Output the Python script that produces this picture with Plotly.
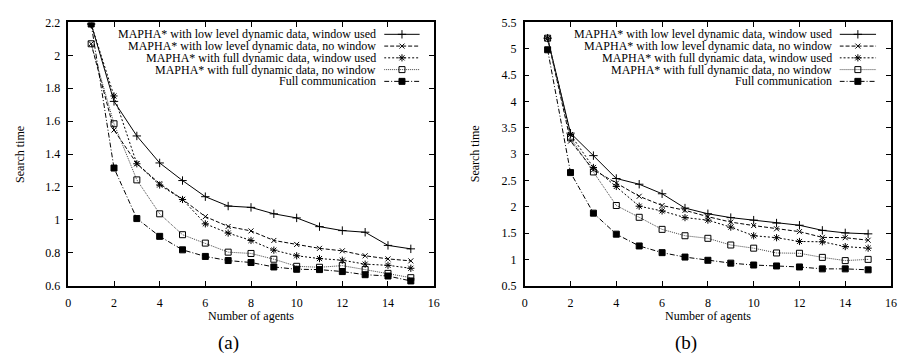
import plotly.graph_objects as go

agents = list(range(1, 16))

# (a)
a_low_win = [2.19, 1.72, 1.51, 1.346, 1.239, 1.141, 1.084, 1.076, 1.037, 1.012, 0.959, 0.935, 0.925, 0.845, 0.824]
a_low_nowin = [2.07, 1.546, 1.342, 1.22, 1.125, 1.02, 0.96, 0.933, 0.875, 0.851, 0.827, 0.812, 0.782, 0.763, 0.751]
a_full_win = [2.19, 1.753, 1.341, 1.212, 1.124, 0.976, 0.92, 0.875, 0.816, 0.782, 0.765, 0.755, 0.731, 0.724, 0.706]
a_full_nowin = [2.07, 1.584, 1.243, 1.037, 0.91, 0.859, 0.804, 0.796, 0.761, 0.718, 0.712, 0.722, 0.698, 0.675, 0.649]
a_fullcomm = [2.19, 1.315, 1.008, 0.9, 0.818, 0.778, 0.753, 0.741, 0.714, 0.7, 0.698, 0.686, 0.667, 0.659, 0.629]

# (b)
b_low_win = [5.2, 3.397, 2.97, 2.536, 2.427, 2.246, 1.974, 1.866, 1.793, 1.745, 1.69, 1.648, 1.551, 1.503, 1.485]
b_low_nowin = [5.2, 3.246, 2.7, 2.446, 2.198, 2.023, 1.932, 1.811, 1.708, 1.642, 1.581, 1.527, 1.418, 1.412, 1.364]
b_full_win = [5.2, 3.37, 2.745, 2.385, 2.01, 1.92, 1.793, 1.745, 1.612, 1.449, 1.412, 1.34, 1.334, 1.243, 1.213]
b_full_nowin = [5.2, 3.307, 2.66, 2.023, 1.799, 1.57, 1.449, 1.40, 1.273, 1.213, 1.122, 1.116, 1.038, 0.977, 1.0]
b_fullcomm = [4.98, 2.648, 1.878, 1.479, 1.255, 1.128, 1.044, 0.983, 0.929, 0.893, 0.875, 0.856, 0.82, 0.82, 0.802]

series_names = [
    "MAPHA* with low level dynamic data, window used",
    "MAPHA* with low level dynamic data, no window",
    "MAPHA* with full dynamic data, window used",
    "MAPHA* with full dynamic data, no window",
    "Full communication",
]

x_ticks = [0, 2, 4, 6, 8, 10, 12, 14, 16]
a_yticks = [0.6, 0.8, 1.0, 1.2, 1.4, 1.6, 1.8, 2.0, 2.2]
a_yticktext = ["0.6", "0.8", "1", "1.2", "1.4", "1.6", "1.8", "2", "2.2"]
b_yticks = [0.5, 1.0, 1.5, 2.0, 2.5, 3.0, 3.5, 4.0, 4.5, 5.0, 5.5]
b_yticktext = ["0.5", "1", "1.5", "2", "2.5", "3", "3.5", "4", "4.5", "5", "5.5"]

FONT = "Liberation Serif"
styles = [
    dict(dash="solid", symbol="cross-thin-open", size=6, lw=1.0, color="black"),
    dict(dash="4px,2px", symbol="x-thin-open", size=5, lw=1.0, color="black"),
    dict(dash="2px,2px", symbol="asterisk-open", size=6, lw=1.0, color="black"),
    dict(dash="1px,1px", symbol="square-open", size=6, lw=1.0, color="#444444"),
    dict(dash="5px,2px,1px,2px", symbol="square", size=6, lw=1.0, color="black"),
]

fig = go.Figure()

def add_series(ys, st, xa, ya):
    fig.add_trace(go.Scatter(
        x=agents, y=ys, mode="lines+markers", xaxis=xa, yaxis=ya, showlegend=False,
        line=dict(color=st["color"], width=st["lw"], dash=st["dash"]),
        marker=dict(symbol=st["symbol"], size=st["size"], color="black",
                    line=dict(color="black", width=1)),
    ))

for ys, st in zip([a_low_win, a_low_nowin, a_full_win, a_full_nowin, a_fullcomm], styles):
    add_series(ys, st, "x", "y")
for ys, st in zip([b_low_win, b_low_nowin, b_full_win, b_full_nowin, b_fullcomm], styles):
    add_series(ys, st, "x2", "y2")

# legend keys (gnuplot style: text left, sample right)
annotations = []
for xa, ya in [("x3", "y3"), ("x4", "y4")]:
    for i, (name, st) in enumerate(zip(series_names, styles)):
        fig.add_trace(go.Scatter(
            x=[0, 1], y=[i, i], mode="lines", xaxis=xa, yaxis=ya, showlegend=False,
            line=dict(color=st["color"], width=st["lw"], dash=st["dash"]),
        ))
        fig.add_trace(go.Scatter(
            x=[0.5], y=[i], mode="markers", xaxis=xa, yaxis=ya, showlegend=False,
            marker=dict(symbol=st["symbol"], size=st["size"], color="black",
                        line=dict(color="black", width=1)),
        ))
        annotations.append(dict(
            text=name, xref=f"{xa} domain", yref=ya, x=0, y=i, xanchor="right",
            yanchor="middle", xshift=-6, showarrow=False,
            font=dict(family=FONT, size=12, color="black"),
        ))

yb, yt = (360 - 290) / 360, (360 - 16) / 360
axis_common = dict(
    showline=True, linecolor="black", linewidth=1.5, mirror="ticks",
    ticks="inside", ticklen=5, tickcolor="black", tickwidth=1,
    showgrid=False, zeroline=False,
    tickfont=dict(family=FONT, size=12, color="black"),
)

fig.update_layout(
    width=900, height=360,
    margin=dict(l=0, r=0, t=0, b=0),
    paper_bgcolor="white", plot_bgcolor="white",
    xaxis=dict(domain=[66 / 900, 435 / 900], range=[0, 16], tickvals=x_ticks, anchor="y",
               ticklabelstandoff=5, **axis_common),
    yaxis=dict(domain=[yb, yt], range=[0.6, 2.2], tickvals=a_yticks, ticktext=a_yticktext, anchor="x",
               ticklabelstandoff=4, **axis_common),
    xaxis2=dict(domain=[527 / 900, 897 / 900], range=[0, 16], tickvals=x_ticks, anchor="y2",
                ticklabelstandoff=5, **axis_common),
    yaxis2=dict(domain=[yb, yt], range=[0.5, 5.5], tickvals=b_yticks, ticktext=b_yticktext, anchor="x2",
                ticklabelstandoff=4, **axis_common),
    xaxis3=dict(domain=[385 / 900, 421 / 900], range=[0, 1], visible=False, anchor="y3", fixedrange=True),
    yaxis3=dict(domain=[(360 - 83.5) / 360, (360 - 22.3) / 360], range=[4.5, -0.5], visible=False, anchor="x3"),
    xaxis4=dict(domain=[845 / 900, 882 / 900], range=[0, 1], visible=False, anchor="y4", fixedrange=True),
    yaxis4=dict(domain=[(360 - 83.5) / 360, (360 - 22.3) / 360], range=[4.5, -0.5], visible=False, anchor="x4"),
)

def label(text, x, y, size=12, angle=0):
    annotations.append(dict(
        text=text, xref="paper", yref="paper", x=x / 900, y=(360 - y) / 360,
        xanchor="center", yanchor="middle", showarrow=False, textangle=angle,
        font=dict(family=FONT, size=size, color="black"),
    ))

label("Number of agents", 250, 322)
label("Number of agents", 712, 322)
label("Search time", 17, 153, angle=-90)
label("Search time", 477, 153, angle=-90)
label("(a)", 228, 350, size=19)
label("(b)", 690, 350, size=19)

fig.update_layout(annotations=annotations)

fig.write_html("out.html")
